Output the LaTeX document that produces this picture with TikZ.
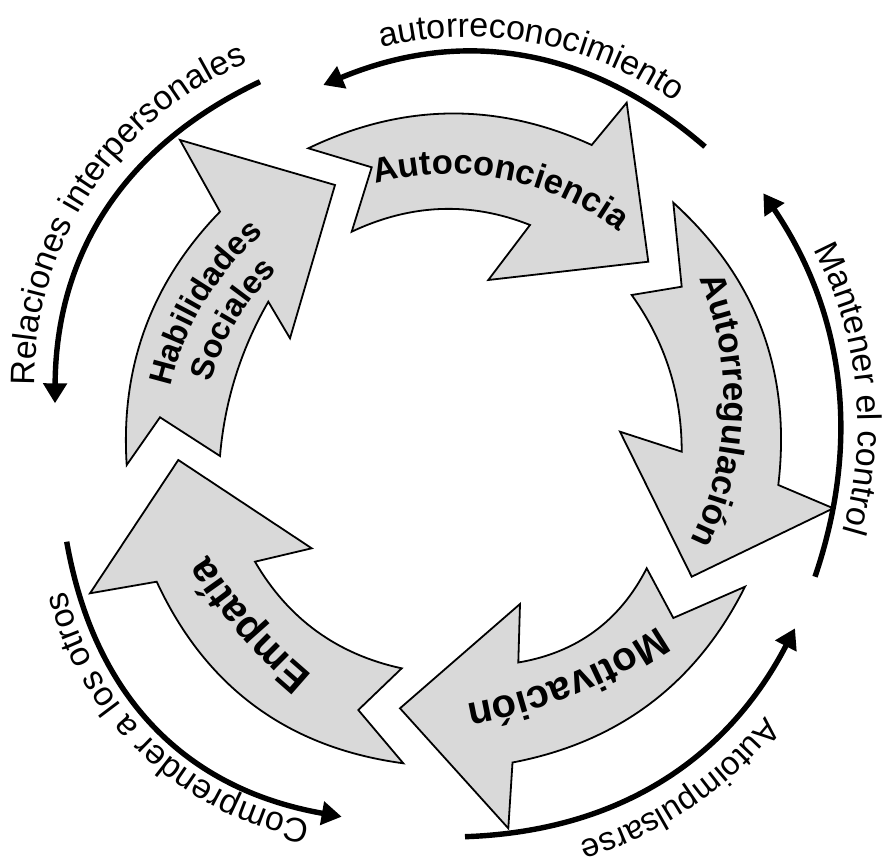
\documentclass[tikz,border=0pt]{standalone}
\usepackage{fontspec}
\setmainfont{Liberation Sans}
\usetikzlibrary{decorations.text,arrows.meta}
\definecolor{arrowfill}{RGB}{217,217,217}
\newcommand\lblout{\fontsize{34}{40}\selectfont}
\newcommand\lbloutS{\fontsize{33}{40}\selectfont}
\newcommand\lblinA{\bfseries\fontsize{34.5}{40}\selectfont}
\newcommand\lblinB{\bfseries\fontsize{35}{40}\selectfont}
\newcommand\lblinC{\bfseries\fontsize{40}{44}\selectfont}
\newcommand\lblinD{\bfseries\fontsize{41}{44}\selectfont}
\newcommand\lblinE{\bfseries\fontsize{32.5}{38}\selectfont}
\tikzset{
  bigarrow/.style={draw=black, line width=1.8pt, fill=arrowfill, line join=miter},
  outerarc/.style={line width=5.4pt, -{Triangle[length=20pt,width=23pt]}},
  curvedtext/.style={decorate, decoration={text along path, text align=center, text={#1}}}
}
\begin{document}
\begin{tikzpicture}[x=1pt,y=1pt]
\useasboundingbox (0,0) rectangle (896,-866);
\fill[white] (0,0) rectangle (896,-866);

% ---- big curved arrows ----
% Autoconciencia
\draw[bigarrow] (308.3,-148.3) .. controls (402.8,-103) and (497.2,-101.9) .. (591.7,-145)
  -- (626.7,-102.7) -- (648.3,-261.7) -- (488.3,-280) -- (530,-225)
  .. controls (470.5,-201.4) and (411.1,-203.7) .. (351.7,-231.7) -- (371.7,-167.3) -- cycle;
% Autorregulacion
\draw[bigarrow] (673.3,-202.7) .. controls (756.6,-278.3) and (791.6,-372.4) .. (778.3,-485)
  -- (833.3,-508.3) -- (691.7,-576.7) -- (620,-431.7) -- (681.7,-451.7)
  .. controls (681.8,-394.1) and (665.2,-341.8) .. (631.7,-295) -- (681.7,-286.7) -- cycle;
% Motivacion
\draw[bigarrow] (745,-586.7) .. controls (696.5,-683.6) and (619,-742.2) .. (512.5,-762.5)
  -- (508.3,-828.3) -- (400,-708.3) -- (520,-604) -- (518.3,-662.5)
  .. controls (576.8,-652.6) and (619.6,-621.2) .. (646.7,-568.3) -- (673.3,-618) -- cycle;
% Empatia
\draw[bigarrow] (403.3,-763.3) .. controls (287.9,-747.8) and (205.7,-687.3) .. (156.7,-581.7)
  -- (90,-593.3) -- (178.3,-460) -- (311.7,-548.3) -- (255,-561.7)
  .. controls (288.2,-618.8) and (337.1,-654.4) .. (401.7,-668.3) -- (358.3,-710) -- cycle;
% Habilidades Sociales
\draw[bigarrow] (126.7,-465) .. controls (120.3,-366.8) and (151.4,-282.3) .. (220,-211.7)
  -- (180,-140) -- (335,-185) -- (290,-338.3) -- (268.3,-301.7)
  .. controls (240.8,-349.6) and (224.7,-401) .. (220,-456) -- (160,-417.3) -- cycle;

% ---- inner labels ----
\path[curvedtext={|\lblinA|Autoconciencia}] ([shift={(450,-450)}]119:276) arc[start angle=119, end angle=39, radius=276];
\path[curvedtext={|\lblinB|Autorregulación}] ([shift={(410,-400)}]38.05:314) arc[start angle=38.05, end angle=-41.95, radius=314];
\path[curvedtext={|\lblinC|Motivación}] ([shift={(379.3,-211.9)}]-43:500) arc[start angle=-43, end angle=-93, radius=500];
\path[curvedtext={|\lblinD|Empatía}] ([shift={(631.5,-290.4)}]-118.8:500) arc[start angle=-118.8, end angle=-158.8, radius=500];
\path[curvedtext={|\lblinE|Habilidades}] ([shift={(450,-450)}]179:286) arc[start angle=179, end angle=119, radius=286];
\path[curvedtext={|\lblinE|Sociales}] ([shift={(450,-450)}]179:249) arc[start angle=179, end angle=119, radius=249];

% ---- outer arcs ----
\coordinate (topS) at (705,-146.7);   \coordinate (topE) at (323.3,-85);
\coordinate (rgtS) at (815,-576.7);   \coordinate (rgtE) at (763.3,-193.3);
\coordinate (brS)  at (465,-836.7);   \coordinate (brE)  at (795,-628.3);
\coordinate (blS)  at (66.7,-541.7);  \coordinate (blE)  at (341.7,-816.7);
\coordinate (tlS)  at (260,-81.7);    \coordinate (tlE)  at (55,-403.3);
\draw[outerarc] (topS) .. controls (590.4,-47.4) and (463.1,-26.8) .. (topE);
\draw[outerarc] (rgtS) .. controls (861.3,-440.4) and (844.1,-312.6) .. (rgtE);
\draw[outerarc] (brS) .. controls (615.5,-831.5) and (725.5,-762) .. (brE);
\draw[outerarc] (blS) .. controls (94.2,-697.5) and (185.9,-789.2) .. (blE);
\draw[outerarc] (tlS) .. controls (124.2,-146) and (55.9,-253.2) .. (tlE);

% ---- outer labels (concentric with their arcs) ----
\path[curvedtext={|\lblout|autorreconocimiento}] ([shift={(469,-395)}]119.55:358) arc[start angle=119.55, end angle=39.55, radius=358];
\path[curvedtext={|\lblout|Mantener el control}] ([shift={(483,-426)}]45.9:375) arc[start angle=45.9, end angle=-34.1, radius=375];
\path[curvedtext={|\lbloutS|Autoimpulsarse}] ([shift={(471,-482)}]-20.9:376) arc[start angle=-20.9, end angle=-90.9, radius=376];
\path[curvedtext={|\lblout|Comprender a los otros}] ([shift={(365.3,-517.1)}]-88.2:308.5) arc[start angle=-88.2, end angle=-178.2, radius=308.5];
\path[curvedtext={|\lblout|Relaciones interpersonales}] ([shift={(379.6,-381.8)}]191.55:345) arc[start angle=191.55, end angle=101.55, radius=345];
\end{tikzpicture}
\end{document}
